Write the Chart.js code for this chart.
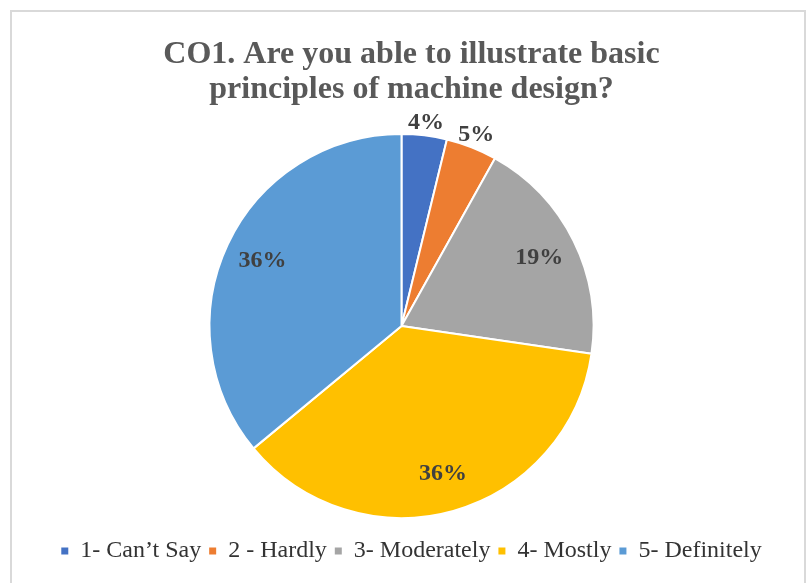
<!DOCTYPE html>
<html>
<head>
    <title>CO1 pie</title>
    <script src="https://cdn.jsdelivr.net/npm/chart.js"></script>
    <style>
        body { margin: 0; background: #fff; }
        #frame { position: absolute; left: 10px; top: 10px; width: 792px; height: 600px; border: 2px solid #d9d9d9; }
        #wrap { position: absolute; left: 0; top: 0; width: 807px; height: 583px; }
    </style>
</head>
<body>
    <div id="frame"></div>
    <div id="wrap"><canvas id="myChart"></canvas></div>

    <script>
        var categories = ['1- Can\u2019t Say', '2 - Hardly', '3- Moderately', '4- Mostly', '5- Definitely'];
        var shares = [3.8, 4.3, 19.2, 36.7, 36.0];
        var pctText = ['4%', '5%', '19%', '36%', '36%'];
        var colors = ['#4472C4', '#ED7D31', '#A5A5A5', '#FFC000', '#5B9BD5'];
        var titleLines = ['CO1. Are you able to illustrate basic', 'principles of machine design?'];

        var serif = '"Liberation Serif", "Times New Roman", serif';

        // pie sits a little left of the title/legend centre
        var pieShift = {
            id: 'pieShift',
            afterDatasetsUpdate: function(chart) {
                chart.getDatasetMeta(0).data.forEach(function(arc) { arc.x -= 10; });
            }
        };

        // percent labels: small slices outside, others inside
        var pctLabels = {
            id: 'pctLabels',
            afterDatasetsDraw: function(chart) {
                var ctx = chart.ctx;
                var meta = chart.getDatasetMeta(0);
                ctx.save();
                ctx.font = 'bold 24px ' + serif;
                ctx.fillStyle = '#404040';
                ctx.textAlign = 'center';
                ctx.textBaseline = 'middle';
                meta.data.forEach(function(arc, i) {
                    var mid = (arc.startAngle + arc.endAngle) / 2;
                    var r = shares[i] < 6 ? arc.outerRadius + 13 : arc.outerRadius * 0.8;
                    ctx.fillText(pctText[i], arc.x + Math.cos(mid) * r, arc.y + Math.sin(mid) * r);
                });
                ctx.restore();
            }
        };

        var baseLabels = Chart.overrides.pie.plugins.legend.labels.generateLabels;

        var ctx = document.getElementById('myChart').getContext('2d');
        var myChart = new Chart(ctx, {
            type: 'pie',
            data: {
                labels: categories,
                datasets: [{
                    data: shares,
                    backgroundColor: colors,
                    borderColor: '#ffffff',
                    borderWidth: 2,
                    radius: 192
                }]
            },
            options: {
                responsive: true,
                maintainAspectRatio: false,
                animation: false,
                layout: { padding: { left: 16, right: 0, top: 0, bottom: 10 } },
                plugins: {
                    title: {
                        display: true,
                        text: titleLines,
                        color: '#595959',
                        font: { family: serif, size: 32, weight: 'bold', lineHeight: 1.1 },
                        padding: { top: 37, bottom: 13.6 }
                    },
                    legend: {
                        position: 'bottom',
                        labels: {
                            color: '#333333',
                            font: { family: serif, size: 24 },
                            boxWidth: 7,
                            boxHeight: 7,
                            padding: 8,
                            generateLabels: function(chart) {
                                return baseLabels(chart).map(function(l) {
                                    l.lineWidth = 0;
                                    l.strokeStyle = 'rgba(0,0,0,0)';
                                    return l;
                                });
                            }
                        }
                    },
                    tooltip: { enabled: false }
                }
            },
            plugins: [pieShift, pctLabels]
        });
    </script>
</body>
</html>
